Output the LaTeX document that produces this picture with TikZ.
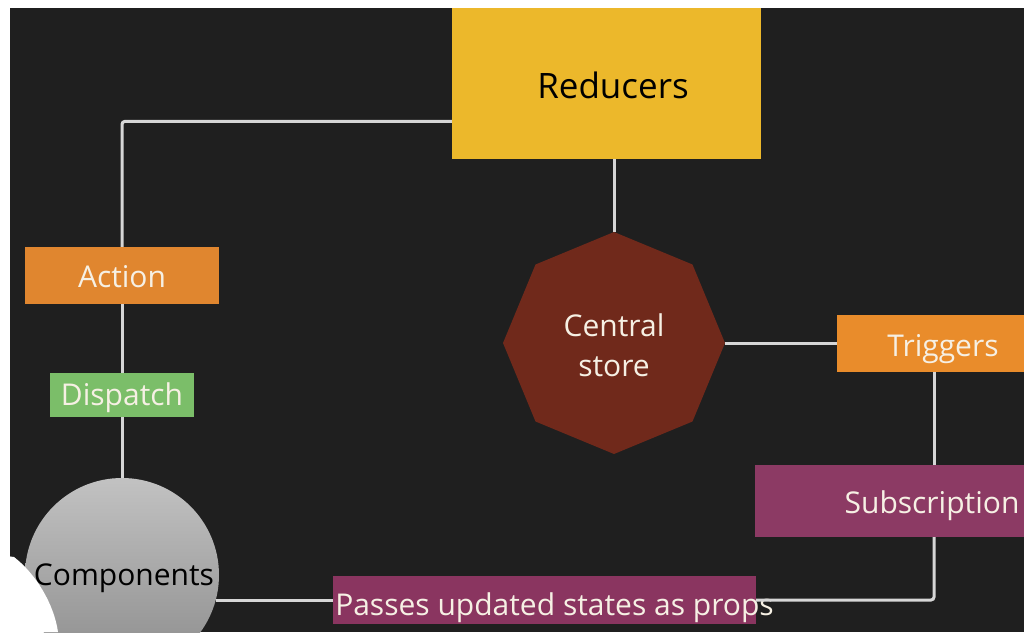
\documentclass[tikz,border=0pt]{standalone}
\usepackage{fontspec}
\setmainfont{Open Sans}
\usetikzlibrary{shapes.geometric,calc}

\definecolor{canvas}{HTML}{1F1F1F}
\definecolor{reducerfill}{HTML}{ECB82B}
\definecolor{actionfill}{HTML}{E0862F}
\definecolor{triggerfill}{HTML}{E98C2B}
\definecolor{dispatchfill}{HTML}{7BBE69}
\definecolor{storefill}{HTML}{70291B}
\definecolor{subfill}{HTML}{8C3A64}
\definecolor{propsfill}{HTML}{8A3560}
\definecolor{lighttext}{HTML}{F6F0E4}
\definecolor{wire}{HTML}{D6D6D6}
\definecolor{compTop}{HTML}{C2C2C2}
\definecolor{compBot}{HTML}{8C8C8C}

\tikzset{
  box/.style={rectangle, inner sep=0pt, text=lighttext,
    font=\fontsize{30}{36}\selectfont},
  % baseline sits #1 below the node centre
  base/.style={text height=2*#1, text depth=0pt},
  conn/.style={draw=wire, line width=3pt, rounded corners=3pt},
}

\begin{document}
\begin{tikzpicture}[x=1pt,y=-1pt]
  \useasboundingbox (0,0) rectangle (1024,632);
  \clip (0,0) rectangle (1024,632);

  % page and dark canvas
  \fill[white] (0,0) rectangle (1024,632);
  \fill[canvas] (10,8) rectangle (1024,632);

  % nodes
  \node[box, fill=reducerfill, text=black, minimum width=309pt, minimum height=151pt,
        font=\fontsize{35}{42}\selectfont, base=14.5pt]
    (reducers) at (606.5,83.5) {\makebox[0pt]{\hspace{13pt}Reducers}};

  \node[regular polygon, regular polygon sides=8, shape border rotate=22.5,
        minimum size=222pt, inner sep=0pt, fill=storefill, text=lighttext,
        align=center, font=\fontsize{30}{40}\selectfont]
    (store) at (614,343) {\rule{0pt}{27pt}Central\\store};

  \node[box, fill=actionfill, minimum width=194pt, minimum height=57pt, base=11.5pt]
    (action) at (122,275.5) {Action};

  \node[box, fill=dispatchfill, minimum width=144pt, minimum height=44pt, base=10pt]
    (dispatch) at (122,395) {Dispatch};

  \node[circle, minimum size=194pt, inner sep=0pt, top color=compTop, bottom color=compBot,
        text=black, font=\fontsize{30}{36}\selectfont, base=10pt]
    (components) at (122,575) {\makebox[0pt]{\hspace{4pt}Components}};

  \node[box, fill=triggerfill, minimum width=212pt, minimum height=57pt, base=12.5pt]
    (triggers) at (943,343.5) {Triggers};

  \node[box, fill=subfill, minimum width=354pt, minimum height=72pt, base=12pt]
    (subscription) at (932,501) {Subscription};

  \node[box, fill=propsfill, minimum width=423pt, minimum height=48pt, base=15pt]
    (props) at (544.5,600) {\makebox[0pt]{\hspace{20pt}Passes updated states as props}};

  % tap line shared by Triggers and Subscription
  \coordinate (tap) at (934,0);

  % connectors
  \draw[conn] (action.north) |- ($(reducers.south west)!0.25!(reducers.north west)$);
  \draw[conn] (store.north) -- (store.north |- reducers.south);
  \draw[conn] (action.south) -- (dispatch.north);
  \draw[conn] (dispatch.south) -- (components.north);
  \draw[conn] (store.east) -- (store.east -| triggers.west);
  \draw[conn] (triggers.south -| tap) -- (subscription.north -| tap);
  \draw[conn] (subscription.south -| tap) |- (props.east);
  \draw[conn] (components.-14 |- props.west) -- (props.west);

  % white patch over the lower left
  \fill[white] (0,555) -- (14,557) .. controls (36,574) and (54,604) .. (58,632)
    -- (0,632) -- cycle;
\end{tikzpicture}
\end{document}
